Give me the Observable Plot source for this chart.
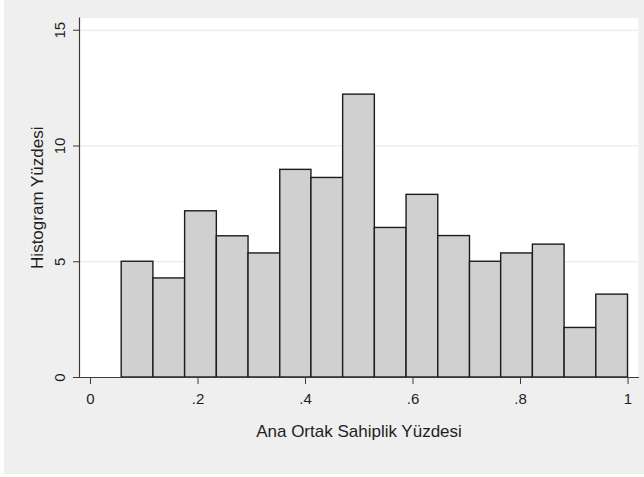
<!DOCTYPE html>
<html>
<head>
<meta charset="utf-8">
<script src="https://cdn.jsdelivr.net/npm/d3@7"></script>
<script src="https://cdn.jsdelivr.net/npm/@observablehq/plot@0.6"></script>
<style>
  html, body { margin: 0; padding: 0; background: #ffffff; }
  #wrap { position: relative; width: 644px; height: 477px; }
  #bg { position: absolute; left: 4px; top: 0; width: 640px; height: 474px; background: #efefef; }
  #chart { position: absolute; left: 0; top: 0; }
</style>
</head>
<body>
<div id="wrap"><div id="bg"></div><div id="chart"></div></div>
<script>
// Bin edges (share of parent ownership)
const binEdges = [0.058, 0.117, 0.176, 0.235, 0.294, 0.353, 0.411, 0.470, 0.529,
                  0.588, 0.647, 0.706, 0.764, 0.823, 0.882, 0.941, 1.000];
// Histogram percent per bin
const percents = [5.0, 4.28, 7.18, 6.10, 5.36, 8.97, 8.62, 12.22,
                  6.46, 7.89, 6.11, 5.0, 5.36, 5.74, 2.14, 3.58];
const xTicks = [0, 0.2, 0.4, 0.6, 0.8, 1];
const yTicks = [0, 5, 10, 15];
const xTitle = "Ana Ortak Sahiplik Yüzdesi";
const yTitle = "Histogram Yüzdesi";

const bins = percents.map((p, i) => ({x1: binEdges[i], x2: binEdges[i + 1], y: p}));
const fmtX = d => d === 0 ? "0" : d === 1 ? "1" : String(d).replace(/^0/, "");

const axisColor = "#3a3a3a";
const textColor = "#1e1e1e";
const font = "'Liberation Sans', Arial, sans-serif";

const chart = Plot.plot({
  width: 644,
  height: 477,
  marginLeft: 79,
  marginRight: 6,
  marginTop: 17.5,
  marginBottom: 100,
  style: {background: "transparent", fontFamily: font, color: textColor},
  x: {domain: [-0.0205, 1.0195]},
  y: {domain: [0, 15.53]},
  marks: [
    Plot.frame({fill: "white", stroke: null}),
    Plot.gridY(yTicks.filter(d => d > 0), {stroke: "#e6e6e6", strokeOpacity: 1, strokeWidth: 1.2}),
    Plot.rectY(bins, {x1: "x1", x2: "x2", y: "y", fill: "#d0d0d0", stroke: "#1c1c1c", strokeWidth: 1.4}),
    Plot.frame({anchor: "left", stroke: axisColor, strokeWidth: 1.2}),
    Plot.frame({anchor: "bottom", stroke: axisColor, strokeWidth: 1.2}),
    Plot.axisX({ticks: xTicks, tickSize: 7, tickFormat: () => "", stroke: axisColor, label: null}),
    Plot.axisY({ticks: yTicks, tickSize: 6, tickFormat: () => "", stroke: axisColor, label: null}),
    Plot.text(xTicks, {x: d => d, text: fmtX, frameAnchor: "bottom", dy: 26, textAnchor: "middle",
                       lineAnchor: "bottom", fontSize: 15, fill: textColor}),
    Plot.text(yTicks, {y: d => d, text: d => String(d), frameAnchor: "left", dx: -15,
                       rotate: -90, textAnchor: "middle", lineAnchor: "bottom",
                       fontSize: 15, fill: textColor}),
    Plot.text([xTitle], {frameAnchor: "bottom", dy: 59, textAnchor: "middle", lineAnchor: "bottom",
                         fontSize: 17, fill: textColor}),
    Plot.text([yTitle], {frameAnchor: "left", dx: -36.3, rotate: -90, textAnchor: "middle",
                         lineAnchor: "bottom", fontSize: 17, fill: textColor})
  ]
});
document.getElementById("chart").appendChild(chart);
</script>
</body>
</html>
